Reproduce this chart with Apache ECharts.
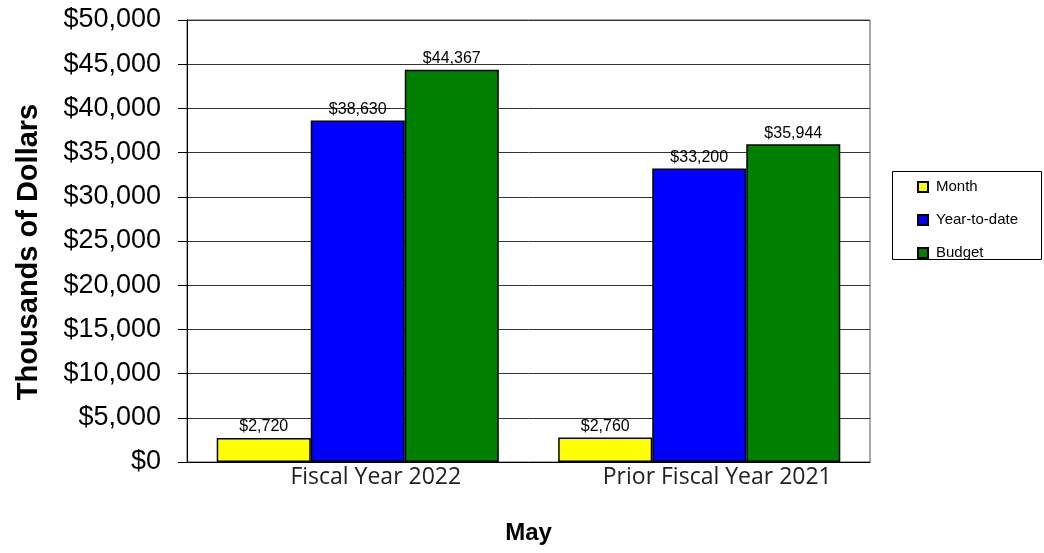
<!DOCTYPE html>
<html>
<head>
<meta charset="utf-8">
<script src="https://cdn.jsdelivr.net/npm/echarts@6/dist/echarts.min.js"></script>
<style>
  html, body { margin: 0; padding: 0; background: #fff; overflow: hidden; }
  #chart { width: 1044px; height: 553px; }
</style>
</head>
<body>
<div id="chart"></div>
<script>
// Categories and series values (thousands of dollars)
var categories = ['Fiscal Year 2022', 'Prior Fiscal Year 2021'];
var monthValues = [2720, 2760];
var ytdValues = [38630, 33200];
var budgetValues = [44367, 35944];
var seriesNames = ['Month', 'Year-to-date', 'Budget'];
var seriesColors = ['#FFFF00', '#0000FF', '#008000'];

var yMin = 0, yMax = 50000, yStep = 5000;

function money(v) {
  return '$' + Math.round(v).toLocaleString('en-US');
}

var sansFont = '"Liberation Sans", Arial, sans-serif';

function barSeries(name, data, color) {
  return {
    name: name,
    type: 'bar',
    data: data,
    barGap: '0%',
    barCategoryGap: '17.4%',
    itemStyle: { color: color, borderColor: '#000', borderWidth: 1.5 },
    label: {
      show: true,
      position: 'top',
      distance: 3,
      formatter: function (p) { return money(p.value); },
      fontFamily: sansFont,
      fontSize: 16,
      color: '#000'
    }
  };
}

var chart = echarts.init(document.getElementById('chart'), null, { renderer: 'canvas' });

chart.setOption({
  animation: false,
  backgroundColor: '#fff',
  grid: {
    left: 187, top: 20, width: 683, height: 442,
    show: true, borderColor: '#555', borderWidth: 1,
    containLabel: false
  },
  graphic: [{
    type: 'rect',
    shape: { x: 892.5, y: 171.5, width: 149, height: 88 },
    style: { fill: 'none', stroke: '#000', lineWidth: 1 },
    z: 1
  }],
  legend: {
    orient: 'vertical',
    left: 917,
    top: 179,
    padding: 0,
    itemWidth: 10,
    itemHeight: 10,
    itemGap: 17,
    icon: 'rect',
    textStyle: { fontFamily: sansFont, fontSize: 15, color: '#000', lineHeight: 16, padding: [0, 0, 0, 3] },
    data: seriesNames
  },
  xAxis: {
    type: 'category',
    data: categories,
    name: 'May',
    nameLocation: 'middle',
    nameGap: 59,
    nameTextStyle: { fontFamily: sansFont, fontSize: 24, fontWeight: 'bold', color: '#000' },
    axisLine: { lineStyle: { color: '#000', width: 1 } },
    axisTick: { show: false },
    axisLabel: {
      fontFamily: '"Open Sans", sans-serif',
      fontSize: 23,
      color: '#222',
      margin: 4,
      padding: [0, 0, 0, 36]
    }
  },
  yAxis: {
    type: 'value',
    min: yMin,
    max: yMax,
    interval: yStep,
    name: 'Thousands of Dollars',
    nameLocation: 'middle',
    nameGap: 144,
    nameTextStyle: {
      fontFamily: sansFont, fontSize: 29, fontWeight: 'bold', color: '#000',
      padding: [0, 22, 0, 0]
    },
    axisLine: { show: true, lineStyle: { color: '#000', width: 1 } },
    axisTick: { show: true, inside: false, length: 9, lineStyle: { color: '#000' } },
    axisLabel: {
      fontFamily: sansFont,
      fontSize: 27,
      color: '#000',
      margin: 26,
      formatter: money
    },
    splitLine: { show: true, lineStyle: { color: '#333', width: 1 } }
  },
  series: [
    barSeries(seriesNames[0], monthValues, seriesColors[0]),
    barSeries(seriesNames[1], ytdValues, seriesColors[1]),
    barSeries(seriesNames[2], budgetValues, seriesColors[2])
  ]
});
</script>
</body>
</html>
